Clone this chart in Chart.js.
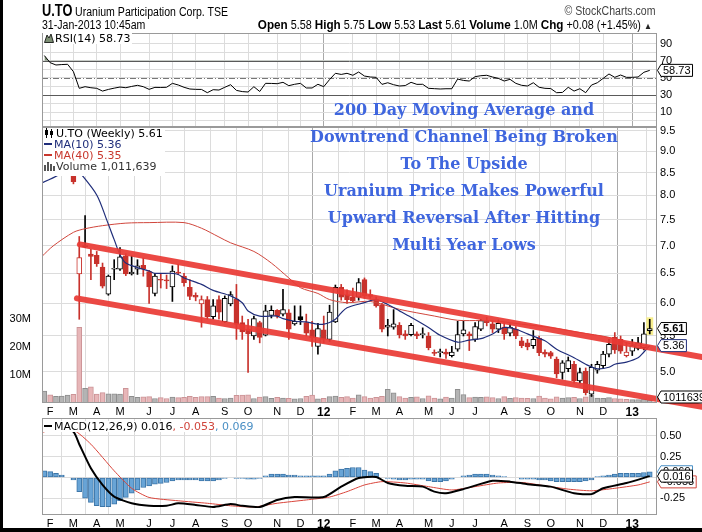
<!DOCTYPE html>
<html>
<head>
<meta charset="utf-8">
<title>U.TO Weekly</title>
<script src="https://cdn.jsdelivr.net/npm/chart.js@4.4.1/dist/chart.umd.min.js"></script>
<style>
html,body{margin:0;padding:0;background:#fff;}
#wrap{position:relative;width:702px;height:532px;overflow:hidden;background:#fff;}
#wrap canvas{position:absolute;left:0;}
.hd{position:absolute;white-space:nowrap;font-family:"Liberation Sans",Arial,sans-serif;color:#000;line-height:1;transform:scaleX(0.88);transform-origin:left top;}
.hd.r{transform-origin:right top;}
.lg{position:absolute;background:#fff;font-family:"DejaVu Sans",Verdana,sans-serif;font-size:11px;line-height:11px;white-space:nowrap;color:#000;padding:0 2px 0 1px;}
.lg svg{vertical-align:-1px;margin-right:1px;}
#note{position:absolute;left:279px;width:370px;top:96px;text-align:center;font-family:"DejaVu Serif",serif;font-weight:bold;color:#3f66de;font-size:16px;line-height:27px;}
.edge{position:absolute;background:#000;}
</style>
</head>
<body>
<div id="wrap">
  <canvas id="cRsi" width="702" height="124" style="top:18px"></canvas>
  <canvas id="cPrice" width="702" height="320" style="top:112px"></canvas>
  <canvas id="cMacd" width="702" height="129" style="top:403px"></canvas>

  <div class="hd" style="left:42px;top:3px;font-size:16px;font-weight:bold;transform:scaleX(0.8);">U.TO</div>
  <div class="hd" style="left:75px;top:6px;font-size:12px;">Uranium Participation Corp. TSE</div>
  <div class="hd r" style="right:46px;top:5px;font-size:12px;color:#444;">© StockCharts.com</div>
  <div class="hd" style="left:42px;top:19px;font-size:12px;">31-Jan-2013 10:45am</div>
  <div class="hd r" style="right:50px;top:18px;font-size:12px;transform:scaleX(0.9);"><b style="font-size:13px">Open</b> 5.58 <b style="font-size:13px">High</b> 5.75 <b style="font-size:13px">Low</b> 5.53 <b style="font-size:13px">Last</b> 5.61 <b style="font-size:13px">Volume</b> 1.0M <b style="font-size:13px">Chg</b> +0.08 (+1.45%) <span style="color:#222;font-size:9px">▲</span></div>

  <div class="lg" style="left:43px;top:33px;"><svg width="10" height="10"><path d="M0.5 9.5 L3 2 L5 5 L7 1 L9.5 9.5Z" fill="#7d8f74" stroke="#000" stroke-width="0.8"/></svg>RSI(14) 58.73</div>

  <div class="lg" style="left:43px;top:128px;padding-bottom:4px;">
    <div><svg width="11" height="10"><path d="M2.5 0v10M7.5 1v9" stroke="#000"/><rect x="1" y="2" width="3" height="5" fill="#000"/><rect x="6" y="3" width="3" height="4" fill="#000"/></svg>U.TO (Weekly) 5.61</div>
    <div style="color:#1f2d7a"><svg width="9" height="10"><rect x="0" y="4" width="8" height="2" fill="#1f2d7a"/></svg>MA(10) 5.36</div>
    <div style="color:#c8372d"><svg width="9" height="10"><rect x="0" y="4" width="8" height="2" fill="#c8372d"/></svg>MA(40) 5.35</div>
    <div style="color:#333"><svg width="11" height="10"><rect x="0" y="4" width="2" height="6" fill="#555"/><rect x="3" y="1" width="2" height="9" fill="#555"/><rect x="6" y="3" width="2" height="7" fill="#555"/><rect x="9" y="5" width="2" height="5" fill="#555"/></svg>Volume 1,011,639</div>
  </div>

  <div class="lg" style="left:43px;top:421px;"><svg width="9" height="10"><rect x="0" y="4" width="8" height="2" fill="#000"/></svg>MACD(12,26,9) 0.016<span style="color:#d0453c">, -0.053</span><span style="color:#4a8fc4">, 0.069</span></div>

  <div id="note">200 Day Moving Average and<br>Downtrend Channel Being Broken<br>To The Upside<br>Uranium Price Makes Powerful<br>Upward Reversal After Hitting<br>Multi Year Lows</div>

  <div class="edge" style="left:0;top:0;width:3px;height:532px;"></div>
  <div class="edge" style="left:0;top:528px;width:702px;height:4px;"></div>
</div>

<script>
// ---------------- DATA (weekly, week 0 = 31-Jan-2011 ... week 104 = 28-Jan-2013) ----------------
const monthTickWeeks = [1,5,9,13,18,22,26,31,35,40,44,48,53,57,61,66,70,74,79,83,87,92,96,101];
const monthLabels = ['F','M','A','M','J','J','A','S','O','N','D','12','F','M','A','M','J','J','A','S','O','N','D','13'];

const priceTicks = [5.0,5.5,6.0,6.5,7.0,7.5,8.0,8.5,9.0,9.5];
const volTicks = [10e6,20e6,30e6];
const rsiGrid = [0,10,20,30,40,50,60,70,80,90];
const rsiLabels = [90,70,50,30,10];
const macdTicks = [-0.25,0,0.25,0.5];

const open = [9.95,10.10,9.95,10.05,10.15,10.10,6.49,6.98,6.84,6.82,
6.61,6.15,6.57,6.57,6.81,6.49,6.57,6.64,6.53,6.16,
6.39,6.38,6.27,6.52,6.45,6.26,6.13,5.99,6.06,5.79,
6.06,5.71,5.99,6.07,5.70,5.60,5.50,5.70,5.51,5.81,
5.89,5.83,5.85,5.68,5.79,5.70,5.59,5.35,5.59,5.45,
5.71,6.26,6.14,6.10,6.10,6.39,6.14,6.06,5.98,5.63,
5.63,5.66,5.53,5.52,5.53,5.52,5.50,5.26,5.26,5.27,
5.22,5.31,5.53,5.53,5.45,5.60,5.73,5.68,5.60,5.63,
5.54,5.60,5.43,5.40,5.36,5.47,5.27,5.26,5.17,4.99,
5.04,5.10,4.88,5.01,4.71,5.02,5.08,5.24,5.48,5.45,
5.22,5.28,5.32,5.33,5.58];
const high = [10.30,10.40,10.25,10.35,10.45,10.25,7.17,7.58,6.93,6.89,
6.68,6.47,6.74,6.96,6.85,6.81,6.74,6.77,6.55,6.50,
6.50,6.47,6.63,6.66,6.50,6.39,6.17,6.12,6.11,6.06,
6.12,6.12,6.19,6.31,5.80,5.75,5.80,5.72,5.97,5.96,
5.90,6.23,5.90,5.96,5.96,5.83,5.72,5.69,5.80,5.97,
6.30,6.31,6.22,6.25,6.41,6.42,6.22,6.10,6.00,5.75,
5.90,5.70,5.58,5.69,5.56,5.62,5.55,5.30,5.31,5.31,
5.35,5.72,5.72,5.56,5.70,5.75,5.78,5.72,5.74,5.70,
5.68,5.64,5.48,5.45,5.58,5.50,5.30,5.28,5.20,5.15,
5.20,5.14,5.05,5.05,5.10,5.14,5.28,5.45,5.55,5.50,
5.40,5.45,5.48,5.70,5.75];
const low = [9.80,9.85,9.85,9.95,10.00,8.25,5.75,6.96,6.39,6.62,
6.25,6.13,6.39,6.55,6.46,6.47,6.48,6.45,6.00,6.12,
6.25,6.24,6.03,6.48,6.28,6.06,6.04,5.63,5.75,5.75,
5.75,5.70,5.96,5.45,5.45,4.99,5.45,5.40,5.50,5.77,
5.77,5.80,5.45,5.66,5.67,5.50,5.35,5.24,5.40,5.42,
5.70,6.05,6.00,6.02,6.05,6.08,6.08,5.94,5.56,5.50,
5.60,5.47,5.45,5.50,5.46,5.47,5.30,5.22,5.20,5.18,
5.20,5.28,5.50,5.29,5.42,5.58,5.65,5.55,5.55,5.45,
5.50,5.46,5.33,5.30,5.32,5.22,5.20,5.18,4.92,4.90,
5.00,4.85,4.85,4.70,4.68,4.98,5.05,5.20,5.25,5.25,
5.20,5.22,5.30,5.30,5.53];
const close = [10.10,9.95,10.05,10.15,10.20,8.30,6.78,7.00,6.80,6.67,
6.28,6.45,6.58,6.79,6.49,6.52,6.63,6.58,6.27,6.45,
6.38,6.37,6.54,6.50,6.34,6.11,6.10,6.06,5.79,5.96,
5.86,6.08,6.14,5.67,5.56,5.53,5.76,5.48,5.88,5.89,
5.80,5.90,5.60,5.72,5.74,5.54,5.47,5.61,5.45,5.86,
6.26,6.10,6.06,6.04,6.34,6.12,6.11,5.96,5.60,5.66,
5.68,5.52,5.50,5.66,5.50,5.53,5.33,5.25,5.27,5.24,
5.27,5.52,5.59,5.50,5.64,5.73,5.70,5.60,5.69,5.53,
5.63,5.50,5.36,5.34,5.45,5.26,5.24,5.21,4.97,5.12,
5.15,4.88,4.99,4.73,5.06,5.10,5.24,5.38,5.30,5.28,
5.27,5.36,5.40,5.53,5.61];
const volume = [4.3e6,2.9e6,2.4e6,2.5e6,2.8e6,3.1e6,27.0e6,5.2e6,5.8e6,3.2e6,
3.7e6,3.3e6,3.3e6,3.2e6,5.2e6,2.4e6,2.0e6,2.2e6,2.3e6,1.6e6,
1.9e6,1.6e6,2.1e6,1.9e6,2.0e6,2.4e6,2.0e6,2.3e6,2.3e6,2.4e6,
1.8e6,1.6e6,1.8e6,2.7e6,2.8e6,2.9e6,1.6e6,2.1e6,2.3e6,1.7e6,
2.0e6,1.8e6,1.7e6,1.5e6,1.6e6,2.4e6,2.8e6,1.5e6,1.7e6,2.3e6,
2.5e6,2.0e6,2.3e6,1.8e6,2.9e6,2.3e6,1.8e6,2.0e6,2.4e6,4.9e6,
3.6e6,2.3e6,1.8e6,2.0e6,2.2e6,1.6e6,2.6e6,1.8e6,1.5e6,2.1e6,
1.8e6,4.9e6,3.0e6,1.9e6,2.1e6,2.0e6,2.2e6,1.9e6,1.6e6,2.3e6,
1.7e6,1.9e6,1.8e6,1.7e6,1.6e6,2.5e6,1.8e6,1.5e6,2.2e6,1.8e6,
1.9e6,2.0e6,1.6e6,2.2e6,2.8e6,1.8e6,1.7e6,1.9e6,1.6e6,1.5e6,
1.3e6,1.2e6,1.2e6,1.4e6,1.011639e6];

// moving averages: [week, value] vertices
const ma10 = [[-0.4,8.27],[3,8.49],[4.5,8.75],[6,8.52],[9,8.01],[10.7,7.50],[12,7.11],[13,6.83],[14,6.68],[16,6.60],
[18,6.54],[19,6.50],[22,6.50],[23,6.48],[24,6.42],[27,6.31],[29,6.21],[32,6.12],[34,6.01],[35,5.88],
[37,5.80],[40,5.80],[41,5.76],[43,5.72],[45,5.71],[47,5.675],[48,5.675],[49,5.70],[50,5.75],[51,5.85],
[52,5.93],[55,6.01],[57,6.06],[59,5.98],[61,5.88],[63,5.78],[66,5.625],[68,5.51],[71,5.41],[73,5.44],
[75,5.46],[77,5.53],[79,5.625],[81,5.60],[83,5.53],[86,5.43],[88,5.31],[91,5.19],[93,5.10],[95,5.04],
[97,5.06],[98,5.10],[100,5.13],[102,5.19],[103,5.27],[104,5.36]];
const ma40 = [[-0.4,6.80],[1.5,6.99],[5,7.25],[7,7.32],[10,7.38],[14,7.43],[18,7.44],[24,7.44],[27,7.33],[30,7.16],
[32,7.05],[36,6.89],[39,6.68],[42,6.42],[44,6.255],[47,6.16],[49,6.06],[52,6.01],[56,6.03],[61,5.905],
[67,5.80],[71,5.735],[75,5.73],[78,5.72],[82,5.675],[87,5.625],[92,5.55],[97,5.48],[101,5.38],[104,5.35]];

// channel lines [week, price]
const upperChannel = [[6.1,7.02],[113,5.20]];
const lowerChannel = [[5.6,6.08],[113,4.553]];

const rsi = [76,67.7,65,65.5,65.8,57.2,37.8,39.7,38.5,37.8,
34.6,36.5,38,39.3,38.5,40,41.3,39.7,36.6,38.9,
38.8,39,43.6,41.7,39,37,36.6,36.5,32.7,36.2,
35.8,39,42,35.4,34,33.5,39.7,34.1,43.6,43.5,
43.2,44.8,40.9,42.5,43.6,38.2,38.2,42.5,39.7,48,
55.3,54,55.3,53,56.8,52.1,51,50.6,42.4,44.3,
42,40.5,41,44.8,42.4,42.5,37.8,37.4,37,37.3,
37.3,48.6,47,46.3,51.4,52.5,53,51,49.4,46.3,
48.3,43.6,41.3,40.5,44.3,39,37.8,37.5,32.7,33,
39,34.6,37.3,32.7,41.6,44.3,49.4,54.5,50.6,53.3,
50.6,50.6,51,56.5,58.73];

const macd = [[-0.4,0.62],[2,0.63],[5,0.55],[6,0.40],[8,0.11],[10,-0.09],[12,-0.23],[15,-0.31],[18,-0.34],[21,-0.34],
[23,-0.31],[26,-0.33],[29,-0.355],[32,-0.32],[34,-0.34],[37,-0.355],[40,-0.27],[43,-0.235],[48,-0.235],[51,-0.11],
[54,-0.006],[57,0.006],[59,-0.066],[62,-0.10],[65,-0.11],[67,-0.17],[69,-0.19],[72,-0.14],[77,-0.04],[80,-0.05],
[83,-0.08],[87,-0.11],[91,-0.19],[94,-0.20],[96,-0.13],[100,-0.066],[104,0.016]];
const signal = [[-0.4,0.54],[1,0.57],[5,0.57],[8,0.40],[12,0.08],[15,-0.13],[18,-0.24],[23,-0.28],[28,-0.31],[32,-0.34],
[36,-0.355],[40,-0.31],[45,-0.27],[49,-0.235],[52,-0.17],[55,-0.09],[58,-0.05],[62,-0.066],[66,-0.11],[70,-0.15],
[74,-0.11],[78,-0.066],[82,-0.06],[86,-0.10],[90,-0.14],[94,-0.16],[98,-0.13],[102,-0.09],[104,-0.053]];
const hist = [0.08,0.07,0.05,0.03,0.0,-0.03,-0.17,-0.25,-0.30,-0.34,
-0.35,-0.35,-0.32,-0.28,-0.24,-0.19,-0.15,-0.12,-0.10,-0.08,
-0.07,-0.06,-0.04,-0.03,-0.03,-0.03,-0.03,-0.04,-0.04,-0.04,
-0.03,-0.01,0.0,-0.01,-0.01,-0.02,-0.02,-0.01,0.02,0.04,
0.04,0.04,0.03,0.03,0.02,0.02,0.02,0.02,0.02,0.04,
0.08,0.10,0.11,0.12,0.12,0.09,0.07,0.05,0.0,-0.01,
-0.02,-0.03,-0.03,-0.02,-0.02,-0.02,-0.04,-0.05,-0.05,-0.04,
-0.02,0.0,0.02,0.03,0.04,0.04,0.04,0.03,0.02,0.01,
0.0,0.0,-0.02,-0.02,-0.02,-0.03,-0.03,-0.04,-0.05,-0.05,
-0.05,-0.05,-0.05,-0.04,-0.03,0.01,0.02,0.03,0.04,0.05,
0.05,0.05,0.05,0.06,0.069];

// ---------------- RENDERING ----------------
const FONT = '"Liberation Sans", Arial, sans-serif';
Chart.defaults.font.family = FONT;
Chart.defaults.font.size = 11;
Chart.defaults.color = '#000';
const last = close.length - 1;
const XMIN = -0.4, XMAX = 105.25;
const GRID = '#dcdcdc';
const RED = '#c8322c';

function xAxis(showLabels) {
  return {
    type: 'linear', min: XMIN, max: XMAX, offset: false,
    afterBuildTicks: s => { s.ticks = monthTickWeeks.map(v => ({ value: v })); },
    afterFit: s => { s.height = showLabels ? 14 : 0; },
    ticks: {
      display: showLabels, autoSkip: false, maxRotation: 0, minRotation: 0, padding: 2,
      callback: (v, i) => monthLabels[i],
      font: c => ({ family: FONT, size: (monthLabels[c.index] || '').length > 1 ? 12 : 11,
                    weight: (monthLabels[c.index] || '').length > 1 ? 'bold' : 'normal' })
    },
    grid: { drawTicks: false, color: c => (monthLabels[c.index] || '').length > 1 ? '#a9a9a9' : GRID },
    border: { display: false }
  };
}
function rightAxis(extra) {
  return Object.assign({
    position: 'right',
    afterFit: s => { s.width = 45; },
    grid: { drawTicks: false, color: GRID },
    border: { display: false }
  }, extra);
}

function drawTag(ctx, x0, y, text, color, bold) {
  ctx.save();
  ctx.font = (bold ? 'bold ' : '') + '11px ' + FONT;
  const w = ctx.measureText(text).width;
  const bx = x0 + 4, bw = w + 4, h = 12;
  ctx.beginPath();
  ctx.moveTo(x0 + 0.5, y);
  ctx.lineTo(bx, y - h / 2);
  ctx.lineTo(bx + bw, y - h / 2);
  ctx.lineTo(bx + bw, y + h / 2);
  ctx.lineTo(bx, y + h / 2);
  ctx.closePath();
  ctx.fillStyle = '#fff'; ctx.fill();
  ctx.lineWidth = 1; ctx.strokeStyle = color; ctx.stroke();
  ctx.fillStyle = '#000'; ctx.textBaseline = 'middle'; ctx.textAlign = 'left';
  ctx.fillText(text, bx + 2, y + 0.5);
  ctx.restore();
}

const panelPlugin = {
  id: 'panel',
  beforeDatasetsDraw(chart, args, opts) {
    const { ctx, chartArea: a } = chart;
    ctx.save();
    (opts.refLines || []).forEach(r => {
      const y = Math.round(chart.scales.y.getPixelForValue(r.value)) + 0.5;
      ctx.beginPath(); ctx.strokeStyle = r.color; ctx.lineWidth = 1;
      ctx.setLineDash(r.dash || []);
      ctx.moveTo(a.left, y); ctx.lineTo(a.right, y); ctx.stroke();
    });
    ctx.setLineDash([]);
    if (opts.highlight) {
      const x = chart.scales.x.getPixelForValue(last);
      const yt = chart.scales.y.getPixelForValue(high[last]) - 2;
      const yb = chart.scales.y.getPixelForValue(low[last]) + 1;
      ctx.fillStyle = '#f7ee8c';
      ctx.fillRect(x - 3.5, yt, 7, yb - yt);
    }
    ctx.restore();
  },
  afterDraw(chart, args, opts) {
    const { ctx, chartArea: a } = chart;
    ctx.save();
    ctx.strokeStyle = '#9a9a9a'; ctx.lineWidth = 1;
    ctx.strokeRect(Math.round(a.left) + 0.5, Math.round(a.top) + 0.5, Math.round(a.width) - 1, Math.round(a.height) - 1);
    ctx.restore();
    (opts.tags || []).forEach(t => {
      let y = chart.scales[t.axis].getPixelForValue(t.value);
      y = Math.min(Math.max(y, a.top + 6), a.bottom - 6);
      drawTag(ctx, a.right, y, t.text, t.color, t.bold);
    });
  }
};

const pts = arr => arr.map(p => ({ x: p[0], y: p[1] }));
const upWeek = i => i === 0 ? true : close[i] >= close[i - 1];
const candleCol = i => upWeek(i) ? '#000' : RED;

// ---- RSI chart ----
new Chart(document.getElementById('cRsi'), {
  type: 'line',
  data: { datasets: [{
    data: rsi.map((v, i) => ({ x: i, y: v })),
    borderColor: '#000', borderWidth: 1, pointRadius: 0, tension: 0,
    fill: { target: { value: 70 }, above: '#7d8f74', below: 'rgba(0,0,0,0)' }
  }]},
  options: {
    responsive: false, animation: false, events: [],
    layout: { padding: { top: 15, bottom: 15, left: 42, right: 0 } },
    plugins: { legend: { display: false }, tooltip: { enabled: false },
      panel: { refLines: [{ value: 70, color: '#5a5a5a' }, { value: 30, color: '#5a5a5a' }, { value: 50, color: '#777', dash: [6, 2, 1, 2] }],
               tags: [{ axis: 'y', value: rsi[last], text: rsi[last].toFixed(2), color: '#000' }] } },
    scales: {
      x: xAxis(false),
      y: rightAxis({ type: 'linear', min: -7.3, max: 102.3,
        afterBuildTicks: s => { s.ticks = rsiGrid.map(v => ({ value: v })); },
        ticks: { padding: 3, autoSkip: false, callback: v => rsiLabels.includes(v) ? String(v) : '' } })
    }
  },
  plugins: [panelPlugin]
});

// ---- Price chart ----
new Chart(document.getElementById('cPrice'), {
  type: 'line',
  data: { datasets: [
    { type: 'line', order: 0, clip: false, data: pts(upperChannel), borderColor: 'rgba(233,58,52,0.92)', borderWidth: 6, borderCapStyle: 'round', pointRadius: 0, yAxisID: 'y' },
    { type: 'line', order: 0, clip: false, data: pts(lowerChannel), borderColor: 'rgba(233,58,52,0.92)', borderWidth: 6, borderCapStyle: 'round', pointRadius: 0, yAxisID: 'y' },
    { type: 'line', order: 1, data: pts(ma10), borderColor: '#1f2d7a', borderWidth: 1.2, pointRadius: 0, tension: 0.3, yAxisID: 'y' },
    { type: 'line', order: 2, data: pts(ma40), borderColor: '#d0463c', borderWidth: 1, pointRadius: 0, tension: 0.3, yAxisID: 'y' },
    { type: 'bar', order: 3, grouped: false, yAxisID: 'y', barThickness: 5, minBarLength: 1, borderSkipped: false, borderWidth: 1,
      data: close.map((c, i) => ({ x: i, y: [Math.min(open[i], c), Math.max(open[i], c)] })),
      backgroundColor: close.map((c, i) => c > open[i] ? '#fff' : candleCol(i)),
      borderColor: close.map((c, i) => candleCol(i)) },
    { type: 'bar', order: 4, grouped: false, yAxisID: 'y', barThickness: 1, borderWidth: 0,
      data: close.map((c, i) => ({ x: i, y: [low[i], high[i]] })),
      backgroundColor: close.map((c, i) => candleCol(i)) },
    { type: 'bar', order: 5, grouped: false, yAxisID: 'vol', barThickness: 5, borderWidth: 1, borderSkipped: 'bottom',
      data: volume.map((v, i) => ({ x: i, y: v })),
      backgroundColor: volume.map((v, i) => upWeek(i) ? '#b4b4b4' : '#e7b6b8'),
      borderColor: volume.map((v, i) => upWeek(i) ? '#8e8e8e' : '#cc9497') }
  ]},
  options: {
    responsive: false, animation: false, events: [],
    layout: { padding: { top: 15, bottom: 15, left: 0, right: 0 } },
    plugins: { legend: { display: false }, tooltip: { enabled: false },
      panel: { highlight: true, tags: [
        { axis: 'vol', value: volume[last], text: String(Math.round(volume[last])), color: '#000' },
        { axis: 'y', value: 5.36, text: '5.36', color: '#1f2d7a' },
        { axis: 'y', value: close[last], text: close[last].toFixed(2), color: '#000', bold: true }
      ] } },
    scales: {
      x: xAxis(true),
      y: rightAxis({ type: 'logarithmic', min: 4.61, max: 9.60,
        afterBuildTicks: s => { s.ticks = priceTicks.map(v => ({ value: v })); },
        ticks: { padding: 3, autoSkip: false, callback: v => Number(v).toFixed(1) } }),
      vol: { type: 'linear', position: 'left', min: 0, max: 98.6e6,
        afterBuildTicks: s => { s.ticks = volTicks.map(v => ({ value: v })); },
        afterFit: s => { s.width = 42; },
        ticks: { padding: 3, autoSkip: false, callback: v => (v / 1e6) + 'M' },
        grid: { display: false }, border: { display: false } }
    }
  },
  plugins: [panelPlugin]
});

// ---- MACD chart ----
new Chart(document.getElementById('cMacd'), {
  type: 'line',
  data: { datasets: [
    { type: 'line', order: 0, data: pts(macd), borderColor: '#000', borderWidth: 2, pointRadius: 0, tension: 0.2 },
    { type: 'line', order: 1, data: pts(signal), borderColor: '#d9443a', borderWidth: 1, pointRadius: 0, tension: 0.2 },
    { type: 'bar', order: 2, grouped: false, barThickness: 5, borderWidth: 1, borderSkipped: false,
      data: hist.map((v, i) => ({ x: i, y: v })), backgroundColor: '#68a4d6', borderColor: '#3d76a8' }
  ]},
  options: {
    responsive: false, animation: false, events: [],
    layout: { padding: { top: 15, bottom: 3, left: 42, right: 0 } },
    plugins: { legend: { display: false }, tooltip: { enabled: false },
      panel: { tags: [
        { axis: 'y', value: hist[last], text: hist[last].toFixed(3), color: '#4a8fc4' },
        { axis: 'y', value: signal[signal.length - 1][1], text: signal[signal.length - 1][1].toFixed(3), color: '#d0453c' },
        { axis: 'y', value: macd[macd.length - 1][1], text: macd[macd.length - 1][1].toFixed(3), color: '#000' }
      ] } },
    scales: {
      x: xAxis(true),
      y: rightAxis({ type: 'linear', min: -0.451, max: 0.715,
        afterBuildTicks: s => { s.ticks = macdTicks.map(v => ({ value: v })); },
        ticks: { padding: 3, autoSkip: false, callback: v => Number(v).toFixed(2) } })
    }
  },
  plugins: [panelPlugin]
});
</script>
</body>
</html>
